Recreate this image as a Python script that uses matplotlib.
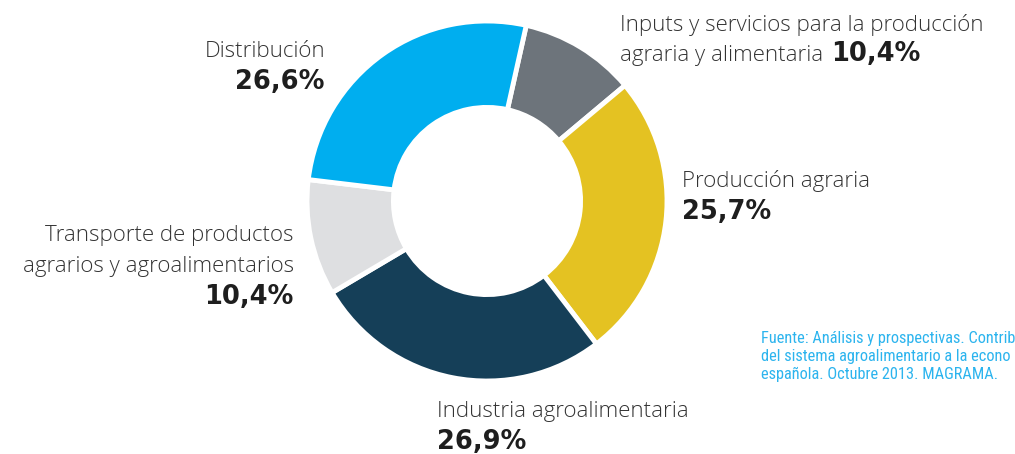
import matplotlib.pyplot as plt

# shares of the agri-food system, clockwise from the top
sectors = ['Inputs y servicios para la producción agraria y alimentaria',
           'Producción agraria', 'Industria agroalimentaria',
           'Transporte de productos agrarios y agroalimentarios', 'Distribución']
shares = [10.4, 25.7, 26.9, 10.4, 26.6]
colors = ['#6d747b', '#e4c222', '#153f58', '#dedfe1', '#00aeef']
pct_labels = ['10,4%', '25,7%', '26,9%', '10,4%', '26,6%']

# the source note is cut by the right edge in the original
source_lines = ['Fuente: Análisis y prospectivas. Contrib',
                'del sistema agroalimentario a la econo',
                'española. Octubre 2013. MAGRAMA.']

W, H = 1015, 454
fig = plt.figure(figsize=(W / 100, H / 100), dpi=100)
ax = fig.add_axes([0, 0, 1, 1])

cx, cy, R = 487, H - 201, 180
ax.pie(shares, colors=colors, startangle=77.4, counterclock=False,
       center=(cx, cy), radius=R,
       wedgeprops=dict(width=R * 0.48, edgecolor='white', linewidth=3.5))
ax.set_xlim(0, W)
ax.set_ylim(0, H)
ax.set_aspect('equal')
ax.axis('off')

light = dict(family=['Open Sans', 'DejaVu Sans'], fontweight='light', fontsize=16, color='#333333')
bold = dict(family=['DejaVu Sans'], fontweight='bold', fontsize=18.5, color='#1e1e1e')


def Y(y):
    return H - y


# Inputs (top right), bold value follows the light text on the second line
ax.text(620, Y(31), 'Inputs y servicios para la producción', ha='left', va='baseline', **light)
t_in = ax.text(620, Y(61), 'agraria y alimentaria', ha='left', va='baseline', **light)
fig.canvas.draw()
bb = t_in.get_window_extent()
ax.text(bb.x1 + 8, Y(61), pct_labels[0], ha='left', va='baseline', **bold)

# Producción agraria
ax.text(682, Y(187), 'Producción agraria', ha='left', va='baseline', **light)
ax.text(682, Y(219), pct_labels[1], ha='left', va='baseline', **bold)

# Industria
ax.text(437, Y(417), 'Industria agroalimentaria', ha='left', va='baseline', **light)
ax.text(437, Y(449), pct_labels[2], ha='left', va='baseline', **bold)

# Transporte
ax.text(294, Y(241), 'Transporte de productos', ha='right', va='baseline', **light)
ax.text(294, Y(272), 'agrarios y agroalimentarios', ha='right', va='baseline', **light)
ax.text(294, Y(304), pct_labels[3], ha='right', va='baseline', **bold)

# Distribución
ax.text(325, Y(57), 'Distribución', ha='right', va='baseline', **light)
ax.text(325, Y(89), pct_labels[4], ha='right', va='baseline', **bold)

src = dict(family=['Roboto Condensed', 'Liberation Sans Narrow', 'DejaVu Sans'],
           fontsize=11.8, color='#2cb4ee')
for i, line in enumerate(source_lines):
    ax.text(761, Y(343 + 18 * i), line, ha='left', va='baseline', **src)

fig.savefig('out.png', dpi=100)
